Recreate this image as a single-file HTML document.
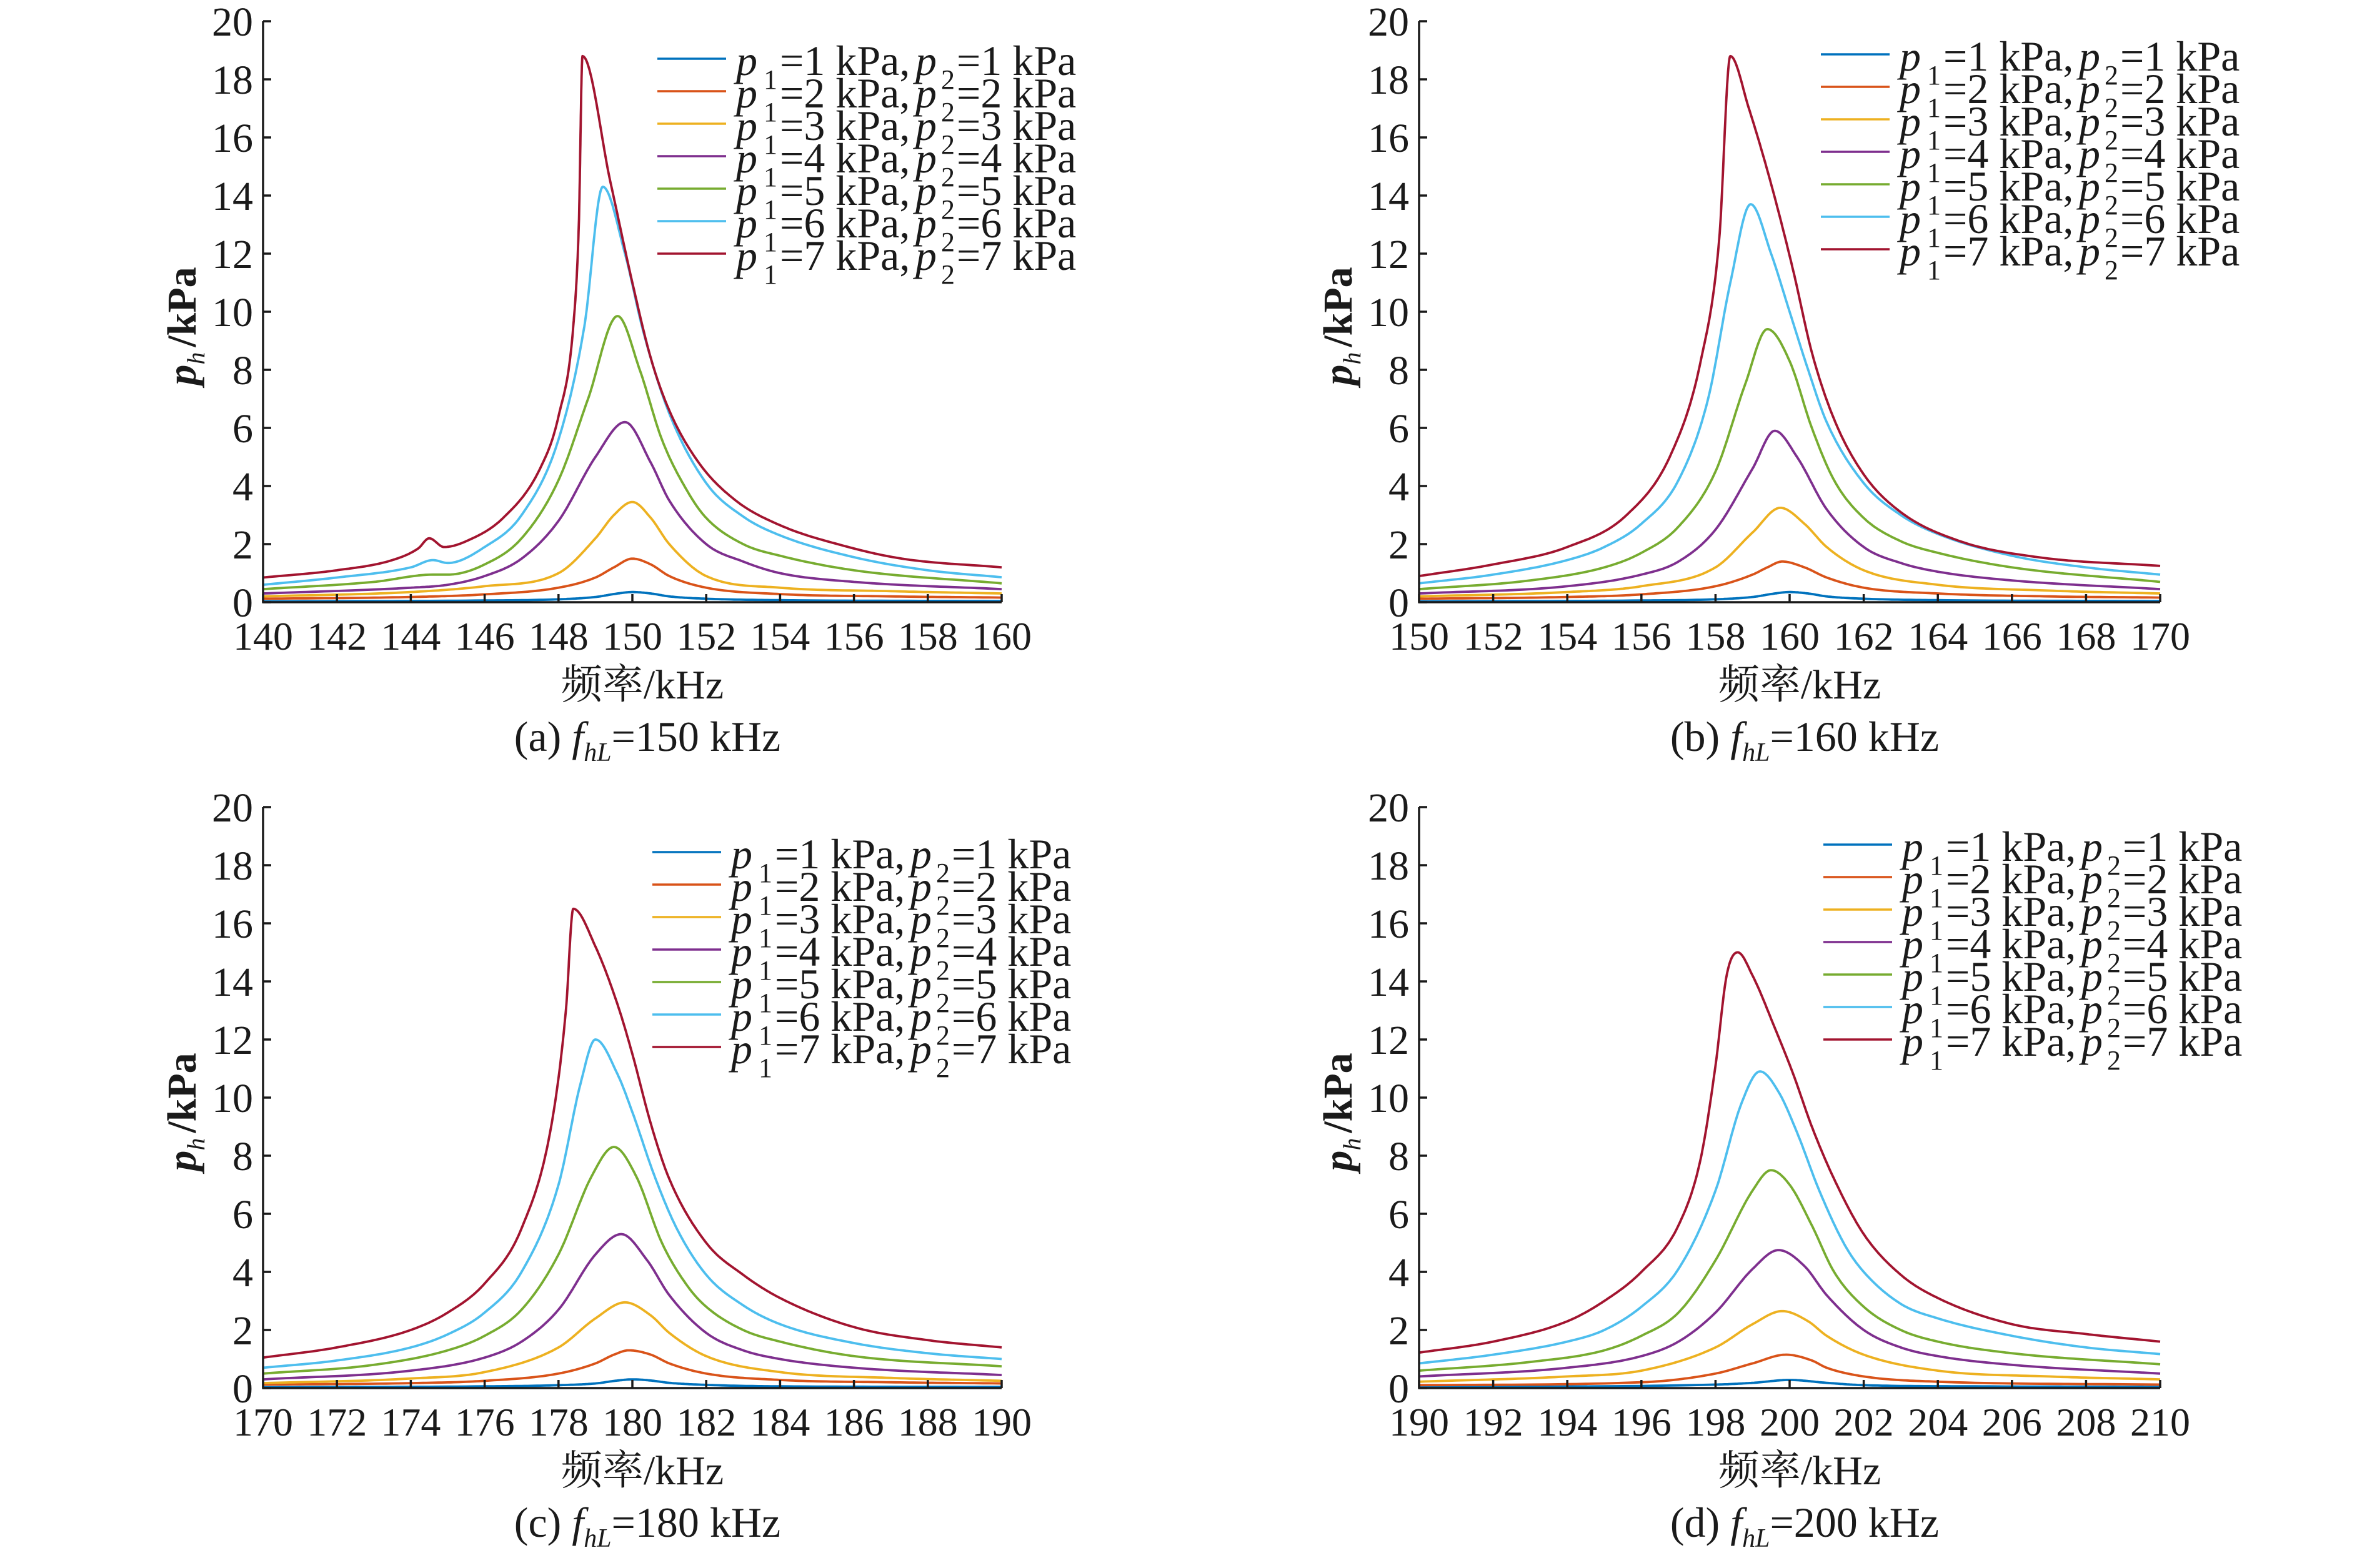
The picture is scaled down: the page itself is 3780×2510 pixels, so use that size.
<!DOCTYPE html>
<html><head><meta charset="utf-8">
<style>
html,body{margin:0;padding:0;background:#fff;}
svg{display:block;}
text{font-family:"Liberation Serif","Noto Serif CJK SC",serif;fill:#1a1a1a;}
</style></head>
<body>
<svg id="fig" width="3780" height="2510" viewBox="0 0 3780 2510" xmlns="http://www.w3.org/2000/svg"></svg>
<script>
// ---------- data ----------
const seriesColors = ["#0072BD","#D95319","#EDB120","#7E2F8E","#77AC30","#4DBEEE","#A2142F"];
const legendValues = [1,2,3,4,5,6,7];
const yTicks = [0,2,4,6,8,10,12,14,16,18,20];

// Panel (a) fhL = 150 kHz
const aTicks = [140,142,144,146,148,150,152,154,156,158,160];
const a1x = [140,146,148,149,149.6,150,150.5,151,152,154,160];
const a1y = [0.03,0.06,0.1,0.18,0.3,0.35,0.3,0.2,0.12,0.07,0.04];
const a2x = [140,144,146,148,149,149.5,150,150.5,151,152,154,157,160];
const a2y = [0.12,0.18,0.27,0.5,0.85,1.2,1.5,1.3,0.9,0.5,0.28,0.2,0.16];
const a3x = [140,144,146,148,149,149.5,150,150.5,151,152,154,157,160];
const a3y = [0.2,0.35,0.55,1.0,2.2,3.0,3.45,2.9,2.0,0.9,0.5,0.38,0.3];
const a4x = [140,144,145,146,147,148,149,149.8,150.5,151,152,153,154,156,160];
const a4y = [0.3,0.5,0.6,0.9,1.5,2.8,5.0,6.2,4.8,3.5,2.0,1.4,1.0,0.7,0.45];
const a5x = [140,143,144.6,145,146,147,148,148.8,149.6,150.2,150.8,151.5,152,153,154,156,160];
const a5y = [0.45,0.7,0.95,0.95,1.3,2.2,4.2,7.0,9.85,8.0,5.6,3.8,2.9,2.0,1.6,1.1,0.65];
const a6x = [140,142,144,144.6,145,146,147,148,148.7,149.2,149.8,150.3,151,152,153,154,156,158,160];
const a6y = [0.6,0.85,1.2,1.45,1.35,1.9,3.0,5.6,9.5,14.3,12.0,9.3,6.5,4.1,2.95,2.3,1.55,1.1,0.86];
const a7x = [140,142,143.5,144.2,144.5,144.9,145.5,146.5,147.5,148,148.4,148.55,148.65,149.4,150,150.5,151,151.8,152.8,154,155.7,157.3,160];
const a7y = [0.85,1.1,1.45,1.85,2.2,1.9,2.1,2.9,4.6,6.4,9.5,13,18.8,14.5,11.0,8.4,6.6,4.8,3.5,2.65,1.95,1.5,1.2];

// Panel (b) fhL = 160 kHz
const bTicks = [150,152,154,156,158,160,162,164,166,168,170];
const b1x = [150,156,158,159,159.6,160,160.5,161,162,164,170];
const b1y = [0.03,0.06,0.1,0.18,0.3,0.35,0.3,0.2,0.12,0.07,0.04];
const b2x = [150,154,156,158,159,159.4,159.8,160.4,161,162,164,167,170];
const b2y = [0.12,0.18,0.27,0.55,0.95,1.2,1.4,1.2,0.85,0.5,0.3,0.2,0.16];
const b3x = [150,154,156,158,159,159.75,160.4,161,162,164,167,170];
const b3y = [0.2,0.35,0.55,1.2,2.4,3.25,2.7,1.9,1.1,0.6,0.4,0.3];
const b4x = [150,154,156,157,158,159,159.6,160.2,161,162,163,164,166,170];
const b4y = [0.3,0.55,0.95,1.4,2.5,4.6,5.9,5.0,3.2,1.9,1.35,1.05,0.75,0.45];
const b5x = [150,153,155,156,157,158,158.8,159.4,160,160.6,161.2,162,163,164,166,170];
const b5y = [0.45,0.75,1.2,1.7,2.6,4.5,7.5,9.4,8.3,6.0,4.2,2.9,2.1,1.7,1.2,0.7];
const b6x = [150,152,154,155,156,157,157.8,158.4,158.95,159.5,160,160.5,161,162,163,164,166,168,170];
const b6y = [0.65,0.95,1.45,1.9,2.7,4.2,7.0,11,13.7,12.0,10.0,8.0,6.2,4.1,3.0,2.35,1.6,1.2,0.95];
const b7x = [150,152,154,155.6,156.8,157.6,158.1,158.4,158.9,159.5,160.1,160.6,161.2,162,163,164.6,166.7,170];
const b7y = [0.9,1.3,1.9,3.0,5.1,8.3,12.5,18.8,17.0,14.4,11.4,8.6,6.3,4.4,3.1,2.1,1.55,1.25];

// Panel (c) fhL = 180 kHz
const cTicks = [170,172,174,176,178,180,182,184,186,188,190];
const c1x = [170,176,178,179,179.6,180,180.5,181,182,184,190];
const c1y = [0.03,0.06,0.1,0.16,0.26,0.3,0.26,0.18,0.11,0.06,0.04];
const c2x = [170,174,176,178,179,179.5,179.9,180.5,181,182,184,187,190];
const c2y = [0.12,0.17,0.25,0.5,0.85,1.15,1.3,1.15,0.85,0.5,0.28,0.2,0.16];
const c3x = [170,174,176,178,179,179.8,180.5,181,182,184,187,190];
const c3y = [0.17,0.33,0.55,1.4,2.4,2.95,2.5,1.9,1.1,0.55,0.35,0.25];
const c4x = [170,174,176,177,178,179,179.7,180.4,181,182,183,184,186,190];
const c4y = [0.3,0.6,1.05,1.6,2.7,4.6,5.3,4.4,3.2,1.9,1.3,1.0,0.7,0.45];
const c5x = [170,173,175,176,177,178,178.9,179.5,180.1,180.8,181.5,182,183,184,186,190];
const c5y = [0.5,0.8,1.3,1.8,2.7,4.6,7.3,8.3,7.3,5.0,3.5,2.8,2.0,1.6,1.1,0.75];
const c6x = [170,172,174,175,176,177,178,178.6,179.0,179.6,180,180.6,181.2,182,183,184,186,188,190];
const c6y = [0.7,0.95,1.4,1.85,2.6,4.0,7.0,10.5,12.0,10.8,9.5,7.3,5.5,3.9,2.85,2.2,1.55,1.2,1.0];
const c7x = [170,172,174,175,176,177,177.8,178.2,178.4,179,179.6,180,180.5,181,182,183,184,186,188,190];
const c7y = [1.05,1.4,2.0,2.6,3.6,5.5,9,13,16.5,15.2,13.2,11.5,9.1,7.2,5.0,3.9,3.1,2.1,1.65,1.4];

// Panel (d) fhL = 200 kHz
const dTicks = [190,192,194,196,198,200,202,204,206,208,210];
const d1x = [190,198,199,200,201,202,205,210];
const d1y = [0.03,0.12,0.18,0.28,0.18,0.1,0.06,0.04];
const d2x = [190,196,198,199,199.9,200.6,201,202,204,210];
const d2y = [0.1,0.2,0.5,0.85,1.15,0.95,0.7,0.4,0.22,0.12];
const d3x = [190,194,196,198,199,199.8,200.5,201,202,204,207,210];
const d3y = [0.22,0.4,0.6,1.4,2.2,2.65,2.3,1.8,1.15,0.6,0.4,0.3];
const d4x = [190,194,196,197,198,199,199.7,200.4,201,202,203,204,206,210];
const d4y = [0.4,0.7,1.1,1.6,2.6,4.1,4.75,4.2,3.2,2.0,1.4,1.1,0.8,0.5];
const d5x = [190,193,195,196,197,198,199,199.5,200,200.6,201.2,202,203,204,206,210];
const d5y = [0.6,0.9,1.3,1.8,2.6,4.4,6.8,7.5,7.0,5.6,4.0,2.8,2.0,1.6,1.2,0.82];
const d6x = [190,192,194,195,196,197,198,198.7,199.2,199.7,200.2,200.8,201.5,202,203,204,206,208,210];
const d6y = [0.85,1.15,1.6,2.0,2.8,4.1,6.8,9.8,10.9,10.2,8.8,6.8,4.9,4.0,2.9,2.4,1.8,1.4,1.17];
const d7x = [190,192,194,195,196,197,197.6,198,198.3,198.6,199,199.6,200.1,200.6,201.2,202,203,204,206,208,210];
const d7y = [1.22,1.6,2.3,3.0,4.0,5.6,7.9,11.1,14.2,15.0,14.2,12.4,10.8,9.0,7.2,5.3,3.9,3.1,2.2,1.86,1.6];

const panels = [
  {id:"a", ox:421, oy:34, w:1182, ticks:aTicks, xs:[a1x,a2x,a3x,a4x,a5x,a6x,a7x], ys:[a1y,a2y,a3y,a4y,a5y,a6y,a7y], legX:1178, legY:120, cap:"150"},
  {id:"b", ox:2271, oy:34, w:1186, ticks:bTicks, xs:[b1x,b2x,b3x,b4x,b5x,b6x,b7x], ys:[b1y,b2y,b3y,b4y,b5y,b6y,b7y], legX:3040, legY:113, cap:"160"},
  {id:"c", ox:421, oy:1292, w:1182, ticks:cTicks, xs:[c1x,c2x,c3x,c4x,c5x,c6x,c7x], ys:[c1y,c2y,c3y,c4y,c5y,c6y,c7y], legX:1170, legY:1390, cap:"180"},
  {id:"d", ox:2271, oy:1292, w:1186, ticks:dTicks, xs:[d1x,d2x,d3x,d4x,d5x,d6x,d7x], ys:[d1y,d2y,d3y,d4y,d5y,d6y,d7y], legX:3044, legY:1378, cap:"200"}
];

// ---------- drawing ----------
const NS = "http://www.w3.org/2000/svg";
const svg = document.getElementById("fig");
function mk(tag, attrs, parent){
  const e = document.createElementNS(NS, tag);
  for (const k in attrs) e.setAttribute(k, attrs[k]);
  (parent||svg).appendChild(e);
  return e;
}
function monotone(xs, ys, n){
  const m = xs.length, d = [], t = new Array(m);
  for (let i=0;i<m-1;i++) d.push((ys[i+1]-ys[i])/(xs[i+1]-xs[i]));
  t[0]=d[0]; t[m-1]=d[m-2];
  for (let i=1;i<m-1;i++){ t[i] = (d[i-1]*d[i]<=0)?0:(d[i-1]+d[i])/2; }
  for (let i=0;i<m-1;i++){
    if (d[i]===0){t[i]=0;t[i+1]=0;continue;}
    const a=t[i]/d[i], b=t[i+1]/d[i], s=a*a+b*b;
    if (s>9){const k=3/Math.sqrt(s); t[i]=k*a*d[i]; t[i+1]=k*b*d[i];}
  }
  const out=[];
  for (let i=0;i<m-1;i++){
    const h=xs[i+1]-xs[i];
    for (let j=0;j<n;j++){
      const u=j/n, h00=2*u*u*u-3*u*u+1, h10=u*u*u-2*u*u+u, h01=-2*u*u*u+3*u*u, h11=u*u*u-u*u;
      out.push([xs[i]+u*h, h00*ys[i]+h10*h*t[i]+h01*ys[i+1]+h11*h*t[i+1]]);
    }
  }
  out.push([xs[m-1], ys[m-1]]);
  return out;
}

panels.forEach(p => {
  const g = mk("g", {});
  
  
  const H = 930, y0 = p.oy + H;
  const x0v = p.ticks[0], x1v = p.ticks[p.ticks.length-1];
  const sx = v => p.ox + (v - x0v) / (x1v - x0v) * p.w;
  const sy = v => y0 - v / 20 * H;

  p.xs.forEach((xs, i) => {
    const pts = monotone(xs, p.ys[i], 24);
    const d = pts.map((q,k)=>(k?"L":"M")+sx(q[0]).toFixed(1)+" "+sy(Math.max(0,q[1])).toFixed(1)).join("");
    const path = mk("path", {d:d, fill:"none", stroke:seriesColors[i], "stroke-width":3.8, "stroke-linejoin":"round"}, g);
    
    
  });

  const ax = mk("path", {d:`M${p.ox} ${p.oy}V${y0}H${p.ox+p.w}`, fill:"none", stroke:"#1a1a1a", "stroke-width":3.5}, g);
  
  

  yTicks.forEach(v => {
    const y = sy(v);
    const tk = mk("line", {x1:p.ox, x2:p.ox+13, y1:y, y2:y, stroke:"#1a1a1a", "stroke-width":3.5}, g);
    
    
    const t = mk("text", {x:p.ox-16, y:y+23, "text-anchor":"end", "font-size":66}, g);
    t.textContent = v;
    
    
  });
  p.ticks.forEach(v => {
    const x = sx(v);
    const tk = mk("line", {x1:x, x2:x, y1:y0, y2:y0-13, stroke:"#1a1a1a", "stroke-width":3.5}, g);
    
    
    const t = mk("text", {x:x, y:y0+76, "text-anchor":"middle", "font-size":64}, g);
    t.textContent = v;
    
    
  });

  const yl = mk("text", {transform:`translate(${p.ox-108},${p.oy+488}) rotate(-90)`, "text-anchor":"middle", "font-size":66}, g);
  yl.innerHTML = '<tspan font-style="italic" font-weight="bold">p</tspan><tspan font-style="italic" font-size="40" dy="14">h</tspan><tspan dy="-14" dx="8" font-weight="bold">/kPa</tspan>';
  
  

  const xl = mk("text", {x:p.ox+p.w/2+16, y:y0+154, "text-anchor":"middle", "font-size":66}, g);
  xl.textContent = "频率/kHz";
  
  

  const cp = mk("text", {x:p.ox+p.w/2+24, y:y0+238, "text-anchor":"middle", "font-size":68}, g);
  cp.innerHTML = '(' + p.id + ') <tspan font-style="italic">f</tspan><tspan font-style="italic" font-size="42" dy="16">hL</tspan><tspan dy="-16">=' + p.cap + ' kHz</tspan>';
  
  

  const lg = mk("g", {}, g);
  
  
  legendValues.forEach((v, i) => {
    const by = p.legY + i * 52;
    const ln = mk("line", {x1:p.legX-126, x2:p.legX-16, y1:by-26, y2:by-26, stroke:seriesColors[i], "stroke-width":3.5}, lg);
    
    
    const t = mk("text", {x:p.legX, y:by, "font-size":68}, lg);
    t.innerHTML =
      '<tspan font-style="italic">p</tspan>' +
      '<tspan x="' + (p.legX+44) + '" dy="22" font-size="44">1</tspan>' +
      '<tspan x="' + (p.legX+70) + '" dy="-22">=' + v + ' kPa,</tspan>' +
      '<tspan x="' + (p.legX+287) + '" font-style="italic">p</tspan>' +
      '<tspan x="' + (p.legX+328) + '" dy="22" font-size="44">2</tspan>' +
      '<tspan x="' + (p.legX+353) + '" dy="-22">=' + v + ' kPa</tspan>';
    
    
  });
});
</script>
</body></html>
